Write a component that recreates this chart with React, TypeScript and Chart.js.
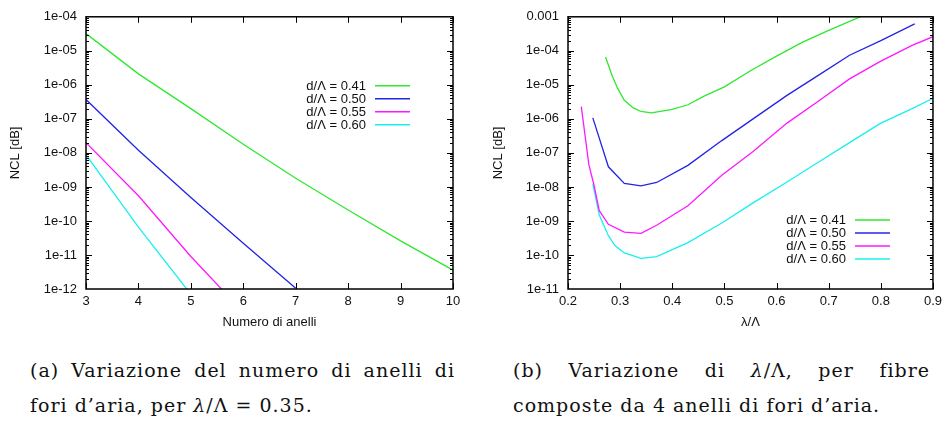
import React, { useEffect, useRef } from 'react';
import { Chart, registerables } from 'chart.js';
Chart.register(...registerables);

// ---------- Data: chart (a) — NCL vs number of rings, λ/Λ = 0.35 ----------
const ringCounts = [3, 4, 5, 6, 7, 8, 9, 10];
const ringsD041 = [3.2e-5, 2.1e-6, 2.0e-7, 1.8e-8, 1.8e-9, 2.1e-10, 2.6e-11, 3.6e-12];
const ringsD050 = [3.7e-7, 1.2e-8, 4.9e-10, 2.2e-11, 1.05e-12];
const ringsD055 = [2.0e-8, 5.5e-10, 9.0e-12, 2.1e-13];
const ringsD060 = [8.7e-9, 6.6e-11, 7.0e-13];

// ---------- Data: chart (b) — NCL vs λ/Λ, 4 rings ----------
const lamD041 = [0.272, 0.285, 0.295, 0.308, 0.325, 0.34, 0.36, 0.40, 0.43, 0.46, 0.50, 0.55, 0.60, 0.65, 0.70, 0.76, 0.80];
const nclD041 = [6.6e-5, 1.8e-5, 8.0e-6, 3.5e-6, 2.1e-6, 1.65e-6, 1.5e-6, 1.9e-6, 2.6e-6, 4.6e-6, 8.7e-6, 2.6e-5, 7.0e-5, 1.8e-4, 4.0e-4, 1.0e-3, 1.65e-3];
const lamD050 = [0.2476, 0.2775, 0.308, 0.34, 0.37, 0.43, 0.495, 0.555, 0.62, 0.68, 0.74, 0.80, 0.865];
const nclD050 = [1.07e-6, 3.9e-8, 1.26e-8, 1.07e-8, 1.35e-8, 4.3e-8, 2.3e-7, 1.0e-6, 4.9e-6, 1.9e-5, 7.4e-5, 2.0e-4, 6.2e-4];
const lamD055 = [0.2255, 0.24, 0.25, 0.26, 0.2775, 0.308, 0.34, 0.37, 0.43, 0.495, 0.555, 0.62, 0.68, 0.74, 0.80, 0.86, 0.90];
const nclD055 = [2.3e-6, 4.5e-8, 1.1e-8, 2.0e-9, 8.0e-10, 4.7e-10, 4.3e-10, 7.5e-10, 2.8e-9, 2.2e-8, 1.1e-7, 7.5e-7, 3.3e-6, 1.5e-5, 5.0e-5, 1.45e-4, 2.6e-4];
const lamD060 = [0.2476, 0.26, 0.2775, 0.29, 0.308, 0.34, 0.37, 0.43, 0.495, 0.555, 0.62, 0.68, 0.74, 0.80, 0.86, 0.90];
const nclD060 = [1.2e-8, 1.5e-9, 3.7e-10, 1.9e-10, 1.15e-10, 8.0e-11, 9.0e-11, 2.3e-10, 8.7e-10, 3.4e-9, 1.4e-8, 5.3e-8, 2.0e-7, 7.5e-7, 2.0e-6, 4.0e-6];

// ---------- Series labels / colours ----------
const seriesLabels = ['d/Λ = 0.41', 'd/Λ = 0.50', 'd/Λ = 0.55', 'd/Λ = 0.60'];
const seriesColors = ['#2fe82f', '#2424e6', '#ff18ff', '#18f0f0'];

// ---------- Tick labels ----------
const ringTickValues = [3, 4, 5, 6, 7, 8, 9, 10];
const ringTickLabels = ['3', '4', '5', '6', '7', '8', '9', '10'];
const lamTickValues = [0.2, 0.3, 0.4, 0.5, 0.6, 0.7, 0.8, 0.9];
const lamTickLabels = ['0.2', '0.3', '0.4', '0.5', '0.6', '0.7', '0.8', '0.9'];
const yTickValuesA = [1e-12, 1e-11, 1e-10, 1e-9, 1e-8, 1e-7, 1e-6, 1e-5, 1e-4];
const yTickLabelsA = ['1e-12', '1e-11', '1e-10', '1e-09', '1e-08', '1e-07', '1e-06', '1e-05', '1e-04'];
const yTickValuesB = [1e-11, 1e-10, 1e-9, 1e-8, 1e-7, 1e-6, 1e-5, 1e-4, 1e-3];
const yTickLabelsB = ['1e-11', '1e-10', '1e-09', '1e-08', '1e-07', '1e-06', '1e-05', '1e-04', '0.001'];

const FONT = 'Liberation Sans, Arial, Helvetica, sans-serif';

const pairs = (xs: number[], ys: number[]) => ys.map((y, i) => ({ x: xs[i], y }));

const gnuFrame = {
  id: 'gnuFrame',
  afterDatasetsDraw(chart: any, _args: any, opts: any) {
    const { ctx, chartArea: a, scales } = chart;
    const xs = scales.x;
    const ys = scales.y;
    ctx.save();
    ctx.strokeStyle = '#000';
    ctx.lineWidth = 1;
    ctx.beginPath();
    const lo = Math.round(Math.log10(ys.min));
    const hi = Math.round(Math.log10(ys.max));
    for (let e = lo; e < hi; e++) {
      for (let m = 1; m <= 9; m++) {
        const v = m * Math.pow(10, e);
        const py = Math.round(ys.getPixelForValue(v)) + 0.5;
        const len = m === 1 ? 6 : 3;
        if (m === 1 && e === lo) continue;
        ctx.moveTo(a.left, py); ctx.lineTo(a.left + len, py);
        ctx.moveTo(a.right, py); ctx.lineTo(a.right - len, py);
      }
    }
    xs.ticks.forEach((t: any) => {
      const px = Math.round(xs.getPixelForValue(t.value)) + 0.5;
      ctx.moveTo(px, a.bottom); ctx.lineTo(px, a.bottom - 6);
      ctx.moveTo(px, a.top); ctx.lineTo(px, a.top + 6);
    });
    ctx.stroke();
    ctx.lineWidth = 1.5;
    ctx.strokeRect(a.left, a.top, a.right - a.left, a.bottom - a.top);

    // gnuplot-style key: right-aligned text followed by a line sample
    const rowGap = 13;
    const n = chart.data.datasets.length;
    const y0 = opts.anchor === 'top' ? a.top + 69 : a.bottom - 69;
    ctx.font = '13px ' + FONT;
    ctx.textAlign = 'right';
    ctx.textBaseline = 'middle';
    for (let i = 0; i < n; i++) {
      const ds = chart.data.datasets[i];
      const y = y0 + i * rowGap;
      ctx.fillStyle = '#111';
      ctx.fillText(ds.label, a.right - 87, y + 0.5);
      ctx.strokeStyle = ds.borderColor;
      ctx.lineWidth = 1.6;
      ctx.beginPath();
      ctx.moveTo(a.right - 78, y);
      ctx.lineTo(a.right - 43, y);
      ctx.stroke();
    }
    ctx.restore();
  },
};

function makeConfig(p: {
  datasets: { xs: number[]; ys: number[] }[];
  xMin: number; xMax: number; xTicks: number[]; xLabels: string[]; xTitle: string;
  yMin: number; yMax: number; yTicks: number[]; yLabels: string[];
  yWidth: number; yTitlePad: number; padRight: number; keyAnchor: string;
}) {
  const tickFont = { family: FONT, size: 13 };
  return {
    type: 'line',
    data: {
      datasets: p.datasets.map((d, i) => ({
        label: seriesLabels[i],
        data: pairs(d.xs, d.ys),
        borderColor: seriesColors[i],
        backgroundColor: seriesColors[i],
        borderWidth: 1.3,
        pointRadius: 0,
        tension: 0,
        fill: false,
      })),
    },
    options: {
      responsive: false,
      animation: false,
      devicePixelRatio: 1,
      events: [],
      layout: { padding: { top: 13, right: p.padRight, left: 0, bottom: 0 } },
      plugins: {
        legend: { display: false },
        tooltip: { enabled: false },
        gnuFrame: { anchor: p.keyAnchor },
      },
      scales: {
        x: {
          type: 'linear',
          min: p.xMin,
          max: p.xMax,
          grid: { display: false, drawTicks: false },
          border: { display: false },
          afterBuildTicks: (s: any) => { s.ticks = p.xTicks.map((v) => ({ value: v })); },
          afterFit: (s: any) => { s.height = 41; },
          ticks: {
            padding: 5, color: '#111', font: tickFont, autoSkip: false, maxRotation: 0,
            callback: (_v: any, i: number) => p.xLabels[i],
          },
          title: { display: true, text: p.xTitle, color: '#111', font: tickFont, padding: { top: 0, bottom: 0 } },
        },
        y: {
          type: 'logarithmic',
          min: p.yMin,
          max: p.yMax,
          grid: { display: false, drawTicks: false },
          border: { display: false },
          afterBuildTicks: (s: any) => { s.ticks = p.yTicks.map((v) => ({ value: v })); },
          afterFit: (s: any) => { s.width = p.yWidth; },
          ticks: {
            padding: 9, color: '#111', font: tickFont, autoSkip: false,
            callback: (_v: any, i: number) => p.yLabels[i],
          },
          title: { display: true, text: 'NCL [dB]', color: '#111', font: tickFont, padding: { top: p.yTitlePad, bottom: 0 } },
        },
      },
    },
    plugins: [gnuFrame],
  };
}

function ChartCanvas({ cfg, left, width, height }: { cfg: any; left: number; width: number; height: number }) {
  const ref = useRef<HTMLCanvasElement | null>(null);
  useEffect(() => {
    if (!ref.current) return;
    const chart = new Chart(ref.current, cfg);
    return () => chart.destroy();
  }, []);
  return (
    <canvas
      ref={ref}
      width={width}
      height={height}
      style={{ position: 'absolute', left, top: 0, width, height, display: 'block' }}
    />
  );
}

const capFont: React.CSSProperties = {
  fontFamily: '"DejaVu Serif", "Liberation Serif", serif',
  fontSize: 19,
  lineHeight: '35px',
  color: '#111',
  letterSpacing: '1px',
  whiteSpace: 'nowrap',
};

function Caption({ left, width, line1, line2 }: { left: number; width: number; line1: React.ReactNode; line2: React.ReactNode }) {
  return (
    <div style={{ position: 'absolute', left, top: 353, width, ...capFont }}>
      <div style={{ textAlign: 'justify', textAlignLast: 'justify', whiteSpace: 'normal' }}>{line1}</div>
      <div>{line2}</div>
    </div>
  );
}

export default function App() {
  const cfgA = makeConfig({
    datasets: [
      { xs: ringCounts, ys: ringsD041 },
      { xs: ringCounts, ys: ringsD050 },
      { xs: ringCounts, ys: ringsD055 },
      { xs: ringCounts, ys: ringsD060 },
    ],
    xMin: 3, xMax: 10, xTicks: ringTickValues, xLabels: ringTickLabels, xTitle: 'Numero di anelli',
    yMin: 1e-12, yMax: 1e-4, yTicks: yTickValuesA, yLabels: yTickLabelsA,
    yWidth: 86, yTitlePad: 8, padRight: 17, keyAnchor: 'top',
  });
  const cfgB = makeConfig({
    datasets: [
      { xs: lamD041, ys: nclD041 },
      { xs: lamD050, ys: nclD050 },
      { xs: lamD055, ys: nclD055 },
      { xs: lamD060, ys: nclD060 },
    ],
    xMin: 0.2, xMax: 0.9, xTicks: lamTickValues, xLabels: lamTickLabels, xTitle: 'λ/Λ',
    yMin: 1e-11, yMax: 1e-3, yTicks: yTickValuesB, yLabels: yTickLabelsB,
    yWidth: 98, yTitlePad: 21, padRight: 11, keyAnchor: 'bottom',
  });
  return (
    <div style={{ position: 'absolute', left: 0, top: 0, width: 947, height: 428, background: '#fff', overflow: 'hidden' }}>
      <ChartCanvas cfg={cfgA} left={0} width={470} height={330} />
      <ChartCanvas cfg={cfgB} left={470} width={477} height={330} />
      <Caption
        left={30}
        width={425}
        line1={<>(a) Variazione del numero di anelli di</>}
        line2={<>fori d’aria, per <i>λ</i>/Λ = 0.35.</>}
      />
      <Caption
        left={513}
        width={417}
        line1={<>(b) Variazione di <i>λ</i>/Λ, per fibre</>}
        line2={<>composte da 4 anelli di fori d’aria.</>}
      />
    </div>
  );
}
